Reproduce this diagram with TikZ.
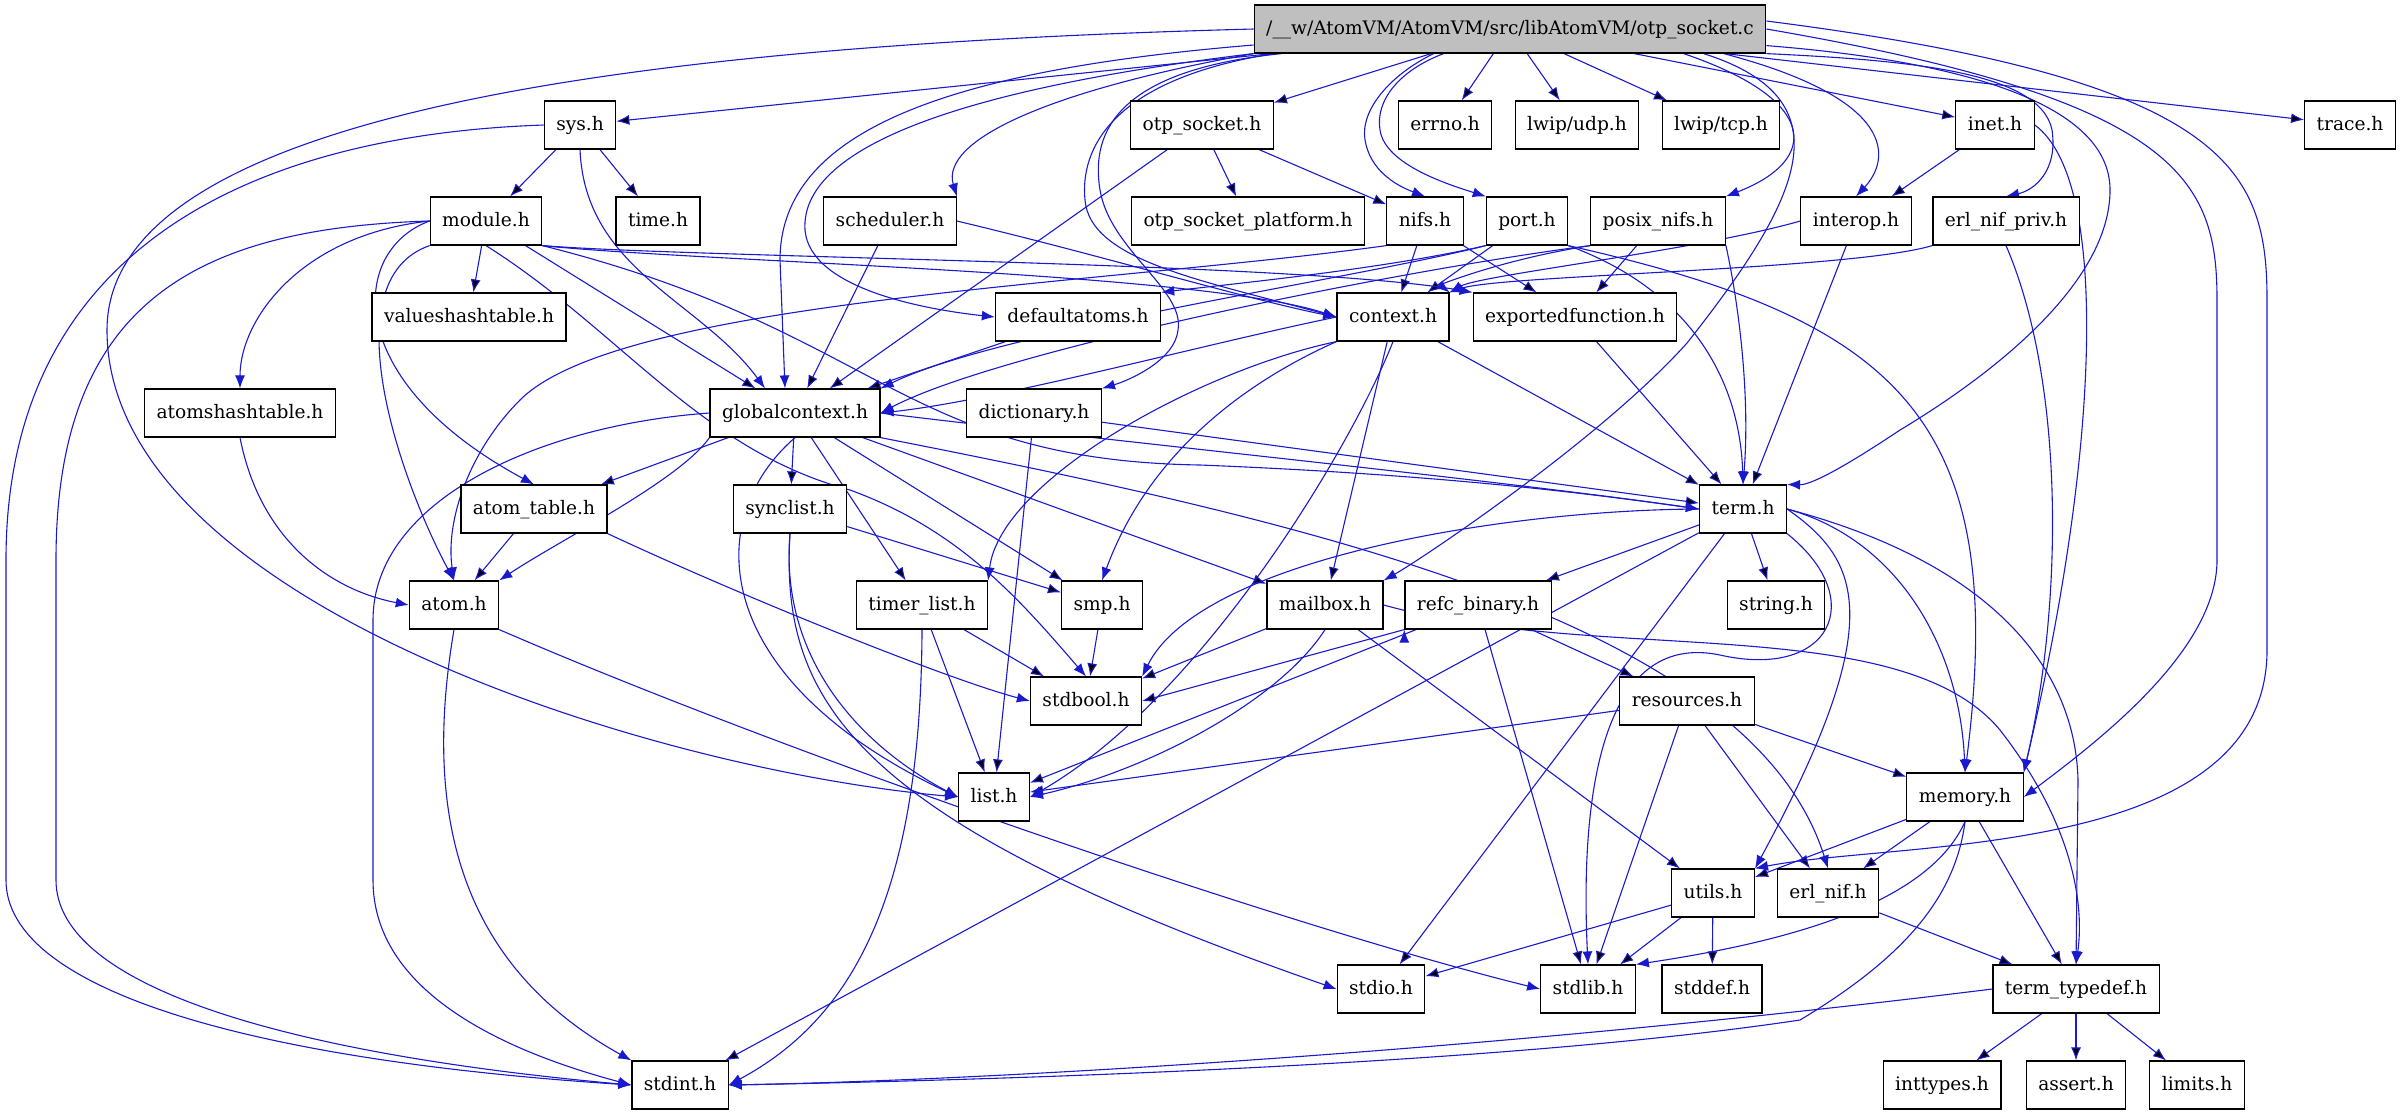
\documentclass[tikz,border=0pt]{standalone}
\usepackage{fontspec}
\setmainfont{DejaVu Serif}
\usetikzlibrary{arrows.meta}
\definecolor{edgeblue}{RGB}{25,25,205}
\definecolor{srcgrey}{RGB}{191,191,191}
\pgfdeclarelayer{background}
\pgfsetlayers{background,main}
\tikzset{
    hbox/.style={draw=black, fill=white, line width=0.6pt, minimum height=24pt, inner xsep=6pt, inner ysep=0pt, text height=7pt, text depth=2pt, font=\fontsize{9.3}{11}\selectfont},
    inclarrow/.style={-{Latex[length=6.5pt,width=5pt]}, draw=edgeblue, line width=0.55pt}
}

\begin{document}
\begin{tikzpicture}[x=0.5pt,y=-0.5pt]
    \useasboundingbox (0,0) rectangle (2401,1115);

    % row 0
    \node[hbox, fill=srcgrey] (src) at (1510,29) {/\_\_w/AtomVM/AtomVM/src/libAtomVM/otp\_socket.c};
    % row 1
    \node[hbox] (sys) at (580,125) {sys.h};
    \node[hbox] (otpsockh) at (1202,125) {otp\_socket.h};
    \node[hbox] (errno) at (1445,125) {errno.h};
    \node[hbox] (udp) at (1577,125) {lwip/udp.h};
    \node[hbox] (tcp) at (1721,125) {lwip/tcp.h};
    \node[hbox] (inet) at (1995,125) {inet.h};
    \node[hbox] (trace) at (2350,125) {trace.h};
    % row 2
    \node[hbox] (module) at (486,221) {module.h};
    \node[hbox] (time) at (658,221) {time.h};
    \node[hbox] (sched) at (890,221) {scheduler.h};
    \node[hbox] (platform) at (1248,221) {otp\_socket\_platform.h};
    \node[hbox] (nifs) at (1425,221) {nifs.h};
    \node[hbox] (port) at (1527,221) {port.h};
    \node[hbox] (posix) at (1658,221) {posix\_nifs.h};
    \node[hbox] (interop) at (1856,221) {interop.h};
    \node[hbox] (nifpriv) at (2006,221) {erl\_nif\_priv.h};
    % row 3
    \node[hbox] (valhash) at (469,317) {valueshashtable.h};
    \node[hbox] (defatoms) at (1078,317) {defaultatoms.h};
    \node[hbox] (context) at (1393,317) {context.h};
    \node[hbox] (expfun) at (1575,317) {exportedfunction.h};
    % row 4
    \node[hbox] (atomhash) at (240,413) {atomshashtable.h};
    \node[hbox] (globalctx) at (795,413) {globalcontext.h};
    \node[hbox] (dict) at (1034,413) {dictionary.h};
    % row 5
    \node[hbox] (atomtable) at (534,509) {atom\_table.h};
    \node[hbox] (synclist) at (790,509) {synclist.h};
    \node[hbox] (term) at (1743,509) {term.h};
    % row 6
    \node[hbox] (atom) at (454,605) {atom.h};
    \node[hbox] (timerlist) at (922,605) {timer\_list.h};
    \node[hbox] (smp) at (1102,605) {smp.h};
    \node[hbox] (mailbox) at (1325,605) {mailbox.h};
    \node[hbox] (refc) at (1478,605) {refc\_binary.h};
    \node[hbox] (string) at (1776,605) {string.h};
    % row 7
    \node[hbox] (stdbool) at (1086,701) {stdbool.h};
    \node[hbox] (resources) at (1687,701) {resources.h};
    % row 8
    \node[hbox] (list) at (994,797) {list.h};
    \node[hbox] (memory) at (1965,797) {memory.h};
    % row 9
    \node[hbox] (utils) at (1713,893) {utils.h};
    \node[hbox] (erlnif) at (1828,893) {erl\_nif.h};
    % row 10
    \node[hbox] (stdio) at (1381,989) {stdio.h};
    \node[hbox] (stdlib) at (1588,989) {stdlib.h};
    \node[hbox] (stddef) at (1712,989) {stddef.h};
    \node[hbox] (termtd) at (2076,989) {term\_typedef.h};
    % row 11
    \node[hbox] (stdint) at (680,1085) {stdint.h};
    \node[hbox] (inttypes) at (1942,1085) {inttypes.h};
    \node[hbox] (assert) at (2076,1085) {assert.h};
    \node[hbox] (limits) at (2197,1085) {limits.h};

    \begin{pgfonlayer}{background}
    % straight includes
    \path [inclarrow] (src) edge (sys) edge (otpsockh) edge (errno) edge (udp) edge (tcp) edge (inet) edge (trace);
    \path [inclarrow] (sys) edge (module) edge (time);
    \path [inclarrow] (module) edge (valhash) edge (globalctx);
    \path [inclarrow] (sched) edge (globalctx);
    \path [inclarrow] (otpsockh) edge (platform) edge (nifs) edge (globalctx);
    \path [inclarrow] (nifs) edge (context) edge (expfun);
    \path [inclarrow] (port) edge (context);
    \path [inclarrow] (posix) edge (expfun);
    \path [inclarrow] (interop) edge (term);
    \path [inclarrow] (inet) edge (interop);
    \path [inclarrow] (defatoms) edge (globalctx);
    \path [inclarrow] (expfun) edge (term);
    \path [inclarrow] (context) edge (term) edge (mailbox);
    \path [inclarrow] (dict) edge (term) edge (list);
    \path [inclarrow] (atomtable) edge (atom);
    \path [inclarrow] (globalctx) edge (atomtable) edge (synclist) edge (timerlist) edge (smp) edge (mailbox);
    \path [inclarrow] (synclist) edge (smp);
    \path [inclarrow] (timerlist) edge (stdbool) edge (list);
    \path [inclarrow] (smp) edge (stdbool);
    \path [inclarrow] (term) edge (refc) edge (string) edge (stdio) edge (stdint);
    \path [inclarrow] (mailbox) edge (stdbool) edge (utils);
    \path [inclarrow] (refc) edge (list) edge (stdlib) edge (resources);
    \path [inclarrow] (refc.south west) edge (stdbool.east);
    \path [inclarrow] (resources) edge (list) edge (stdlib) edge (erlnif) edge (memory);
    \path [inclarrow] (memory) edge (utils) edge (erlnif) edge (termtd);
    \path [inclarrow] (utils) edge (stdio) edge (stdlib) edge (stddef);
    \path [inclarrow] (erlnif) edge (termtd);
    \path [inclarrow] (termtd) edge (inttypes) edge (assert) edge (limits);

    % curved includes from otp_socket.c
    \draw [inclarrow] (src.west) .. controls (650,45) and (107,110) .. (107,330) .. controls (107,600) and (650,770) .. (list.west);
    \draw [inclarrow] ([yshift=-8pt]src.west) .. controls (950,70) and (780,130) .. (780,260) -- ([xshift=-5pt]globalctx.north);
    \draw [inclarrow] (src.south west) .. controls (950,90) and (800,150) .. (805,230) .. controls (810,290) and (930,310) .. (defatoms.west);
    \draw [inclarrow] (src.south west) .. controls (1050,90) and (940,140) .. (sched.north east);
    \draw [inclarrow] ([xshift=10pt]src.south west) .. controls (1110,80) and (1080,150) .. (1085,200) .. controls (1090,260) and (1200,280) .. (context.west);
    \draw [inclarrow] ([xshift=14pt]src.south west) .. controls (1120,70) and (1090,130) .. (1100,190) .. controls (1110,250) and (1185,290) .. (1178,330) .. controls (1175,360) and (1130,380) .. (dict.north east);
    \draw [inclarrow] ([xshift=90pt]src.south west) .. controls (1390,75) and (1360,110) .. (1365,140) .. controls (1370,170) and (1395,185) .. (nifs.north);
    \draw [inclarrow] ([xshift=95pt]src.south west) .. controls (1400,70) and (1375,100) .. (1380,130) .. controls (1385,165) and (1450,185) .. (port.north west);
    \draw [inclarrow] ([xshift=215pt]src.south west) .. controls (1820,100) and (1820,160) .. (posix.north east);
    \draw [inclarrow] ([xshift=225pt]src.south west) .. controls (1850,100) and (1800,200) .. (1687,343) .. controls (1600,440) and (1420,560) .. (mailbox.north east);
    \draw [inclarrow] ([xshift=235pt]src.south west) .. controls (1900,100) and (1890,160) .. (interop.north);
    \draw [inclarrow] (src.south east) .. controls (1900,60) and (2040,70) .. (2052,130) .. controls (2058,170) and (2035,190) .. (nifpriv.north);
    \draw [inclarrow] ([yshift=4pt]src.south east) .. controls (1950,60) and (2110,100) .. (2110,190) .. controls (2110,280) and (2000,370) .. (1900,430) .. controls (1840,470) and (1810,485) .. (term.north east);
    \draw [inclarrow] (src.east) .. controls (2180,100) and (2217,180) .. (2217,300) -- (2217,560) .. controls (2217,650) and (2100,740) .. (memory.east);
    \draw [inclarrow] ([yshift=4pt]src.east) .. controls (2230,80) and (2267,170) .. (2267,300) -- (2267,650) .. controls (2267,860) and (1900,840) .. (utils.north east);

    % curved includes from the headers
    \draw [inclarrow] (sys.south) .. controls (585,270) and (700,300) .. ([xshift=-15pt]globalctx.north);
    \draw [inclarrow] (sys.west) .. controls (250,135) and (6,250) .. (6,560) -- (6,880) .. controls (6,990) and (250,1060) .. (stdint.west);
    \draw [inclarrow] (module.west) .. controls (200,228) and (56,300) .. (56,560) -- (56,880) .. controls (56,990) and (300,1055) .. (stdint.west);
    \draw [inclarrow] (module.west) .. controls (300,235) and (240,320) .. (atomhash.north);
    \draw [inclarrow] (module.south west) .. controls (330,280) and (400,480) .. (atom.north);
    \draw [inclarrow] (module.west) .. controls (350,250) and (340,380) .. (atomtable.north);
    \draw [inclarrow] (module.south east) .. controls (700,262) and (1200,272) .. (context.west);
    \draw [inclarrow] (module.south east) .. controls (700,258) and (1300,262) .. (expfun.north west);
    \draw [inclarrow] (module.south east) .. controls (880,330) and (900,460) .. (1200,465) .. controls (1450,475) and (1600,495) .. (term.west);
    \draw [inclarrow] (module.south) .. controls (620,330) and (700,450) .. (850,490) .. controls (960,530) and (1020,600) .. (stdbool.north);
    \draw [inclarrow] (sched.east) .. controls (1100,255) and (1250,300) .. (context.west);
    \draw [inclarrow] (nifs.south west) .. controls (1100,285) and (620,300) .. (520,400) .. controls (470,450) and (445,520) .. (atom.north);
    \draw [inclarrow] (port.south west) .. controls (1380,270) and (1220,285) .. (defatoms.north east);
    \draw [inclarrow] (port.south west) .. controls (1350,280) and (1000,330) .. (globalctx.north east);
    \draw [inclarrow] (port.south east) .. controls (1690,290) and (1740,380) .. (term.north);
    \draw [inclarrow] (port.south east) .. controls (1900,320) and (2010,420) .. (memory.north);
    \draw [inclarrow] (posix.south west) .. controls (1400,270) and (1000,350) .. (globalctx.east);
    \draw [inclarrow] (posix.south west) .. controls (1500,260) and (1440,285) .. (context.north east);
    \draw [inclarrow] (posix.south east) .. controls (1740,310) and (1750,400) .. (term.north);
    \draw [inclarrow] (interop.west) .. controls (1700,250) and (1480,275) .. (context.north east);
    \draw [inclarrow] (nifpriv.south west) .. controls (1850,270) and (1500,275) .. (context.north east);
    \draw [inclarrow] (nifpriv.south) .. controls (2064,380) and (2064,600) .. (memory.north east);
    \draw [inclarrow] (inet.east) .. controls (2110,180) and (2100,450) .. (memory.north east);
    \draw [inclarrow] (context.west) .. controls (1200,345) and (1000,400) .. (globalctx.east);
    \draw [inclarrow] (context.south west) .. controls (1250,380) and (1150,450) .. (smp.north);
    \draw [inclarrow] (context.south west) .. controls (1200,370) and (1000,480) .. (timerlist.north east);
    \draw [inclarrow] (context.south) .. controls (1350,450) and (1200,700) .. (list.east);
    \draw [inclarrow] (atomhash.south) .. controls (260,540) and (330,590) .. (atom.west);
    \draw [inclarrow] (globalctx.south west) .. controls (680,480) and (560,540) .. (atom.north east);
    \draw [inclarrow] (globalctx.west) .. controls (540,425) and (373,500) .. (373,620) -- (373,880) .. controls (373,990) and (500,1050) .. (stdint.west);
    \draw [inclarrow] (globalctx.south) .. controls (700,520) and (710,680) .. (list.west);
    \draw [inclarrow] (globalctx.east) .. controls (1100,440) and (1500,480) .. (term.west);
    \draw [inclarrow] (globalctx.south east) .. controls (1300,520) and (1750,620) .. (erlnif.north);
    \draw [inclarrow] (atomtable.south east) .. controls (750,600) and (950,680) .. (stdbool.west);
    \draw [inclarrow] (synclist.south) .. controls (780,650) and (850,740) .. (list.west);
    \draw [inclarrow] (synclist.south) .. controls (780,700) and (850,820) .. (stdio.west);
    \draw [inclarrow] (timerlist.south) .. controls (921,900) and (850,1020) .. (stdint.east);
    \draw [inclarrow] (atom.south) .. controls (425,800) and (450,960) .. (stdint.north west);
    \draw [inclarrow] (atom.south east) .. controls (800,760) and (1300,930) .. (stdlib.west);
    \draw [inclarrow] (term.west) .. controls (1500,510) and (1200,560) .. (stdbool.north east);
    \draw [inclarrow] (term.east) .. controls (1900,540) and (1960,650) .. (memory.north);
    \draw [inclarrow] (term.east) .. controls (1860,560) and (1890,620) .. (utils.north east);
    \draw [inclarrow] (term.south east) .. controls (1870,600) and (1830,680) .. (1720,655) .. controls (1600,630) and (1580,800) .. (stdlib.north);
    \draw [inclarrow] (term.east) .. controls (1980,560) and (2075,660) .. (2078,780) -- (termtd.north);
    \draw [inclarrow] (mailbox.south) .. controls (1280,700) and (1150,770) .. (list.east);
    \draw [inclarrow] (mailbox.east) .. controls (1600,665) and (1900,610) .. (2000,730) .. controls (2070,820) and (2085,900) .. (termtd.north);
    \draw [inclarrow] (memory.south) .. controls (1930,900) and (1800,940) .. (stdlib.north east);
    \draw [inclarrow] (memory.south) .. controls (1955,900) and (1900,960) .. (1800,1020) .. controls (1500,1065) and (1000,1080) .. (stdint.east);
    \draw [inclarrow] (termtd.west) .. controls (1500,1050) and (1000,1080) .. (stdint.east);
    \end{pgfonlayer}
\end{tikzpicture}
\end{document}
